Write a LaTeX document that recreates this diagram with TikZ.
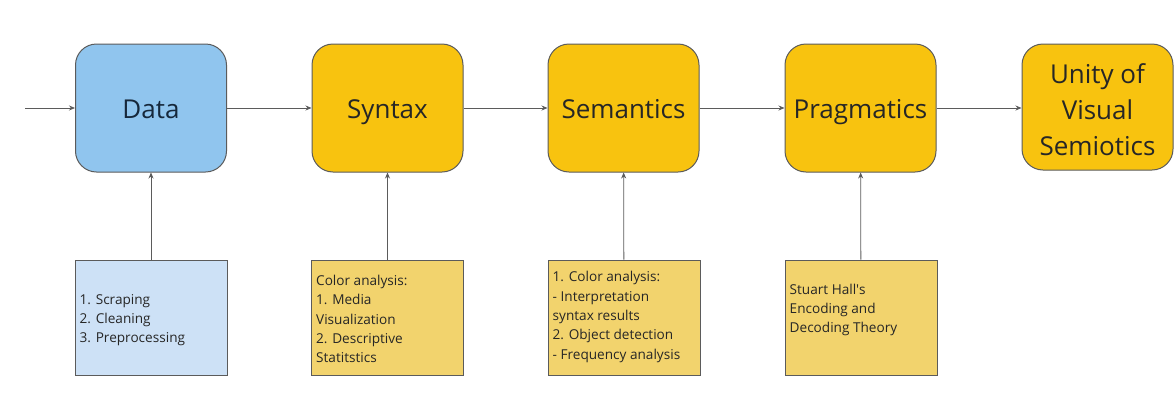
\documentclass[tikz,border=0pt]{standalone}
\usepackage{fontspec}
\setmainfont{Open Sans}
\usetikzlibrary{arrows.meta}
\definecolor{mainblue}{HTML}{90C5EE}
\definecolor{subblue}{HTML}{CDE1F6}
\definecolor{mainyellow}{HTML}{F8C30F}
\definecolor{subyellow}{HTML}{F2D36D}
\definecolor{edgegray}{HTML}{5B5B5B}
\definecolor{txt}{HTML}{262626}
\definecolor{txtblue}{HTML}{16283B}
\tikzset{
  stage/.style={draw=edgegray, line width=1pt, rounded corners=21pt, minimum width=151pt, minimum height=128pt, inner sep=0pt, text=txt, font=\fontsize{26}{36}\selectfont, align=center},
  oneline/.style={text height=20pt, text depth=0pt},
  note/.style={draw=edgegray, line width=1pt, minimum width=152pt, minimum height=115pt, inner sep=0pt},
  notetext/.style={anchor=west, align=left, inner sep=0pt, text=txt, font=\fontsize{13.6}{19.3}\selectfont},
  conn/.style={draw=edgegray, line width=0.8pt, -{Stealth[length=6pt,width=5pt]}}
}
\begin{document}
\begin{tikzpicture}[x=1pt,y=-1pt]
\fill[white] (0,0) rectangle (1176,405);
\useasboundingbox (0,0) rectangle (1176,405);
\node[stage, oneline, fill=mainblue, text=txtblue] (data) at (151,108) {Data};
\node[stage, oneline, fill=mainyellow] (syntax) at (387.5,108) {Syntax};
\node[stage, oneline, fill=mainyellow] (semantics) at (623.5,108) {Semantics};
\node[stage, oneline, fill=mainyellow] (pragmatics) at (860.5,108) {Pragmatics};
\node[stage, fill=mainyellow, minimum height=126pt] (unity) at (1097.5,107) {\rule{0pt}{25pt}Unity of\\Visual\\Semiotics};
\coordinate (start) at (25,108);
\node[note, fill=subblue] (ndata) at (151,317.5) {};
\node[note, fill=subyellow] (nsyntax) at (387.5,317.5) {};
\node[note, fill=subyellow] (nsemantics) at (624,317.5) {};
\node[note, fill=subyellow] (npragmatics) at (861,317.5) {};
\node[notetext] (tdata) at ([xshift=5pt]ndata.west |- 0,320) {1. Scraping\\2. Cleaning\\3. Preprocessing};
\node[notetext] (tsyntax) at ([xshift=5pt]nsyntax.west |- 0,319) {Color analysis:\\1. Media\\Visualization\\2. Descriptive\\Statitstics};
\node[notetext] (tsemantics) at ([xshift=5pt]nsemantics.west |- 0,317) {1. Color analysis:\\- Interpretation\\syntax results\\2. Object detection\\- Frequency analysis};
\node[notetext] (tpragmatics) at ([xshift=5pt]npragmatics.west |- 0,310) {Stuart Hall\textquotesingle s\\Encoding and\\Decoding Theory};
\draw[conn] (start) -- (data);
\draw[conn] (data) -- (syntax);
\draw[conn] (syntax) -- (semantics);
\draw[conn] (semantics) -- (pragmatics);
\draw[conn] (pragmatics.east) -- (unity.west |- pragmatics.east);
\draw[conn] (ndata) -- (data);
\draw[conn] (nsyntax) -- (syntax);
\draw[conn] (nsemantics) -- (semantics);
\draw[conn] (npragmatics) -- (pragmatics);
\end{tikzpicture}
\end{document}
